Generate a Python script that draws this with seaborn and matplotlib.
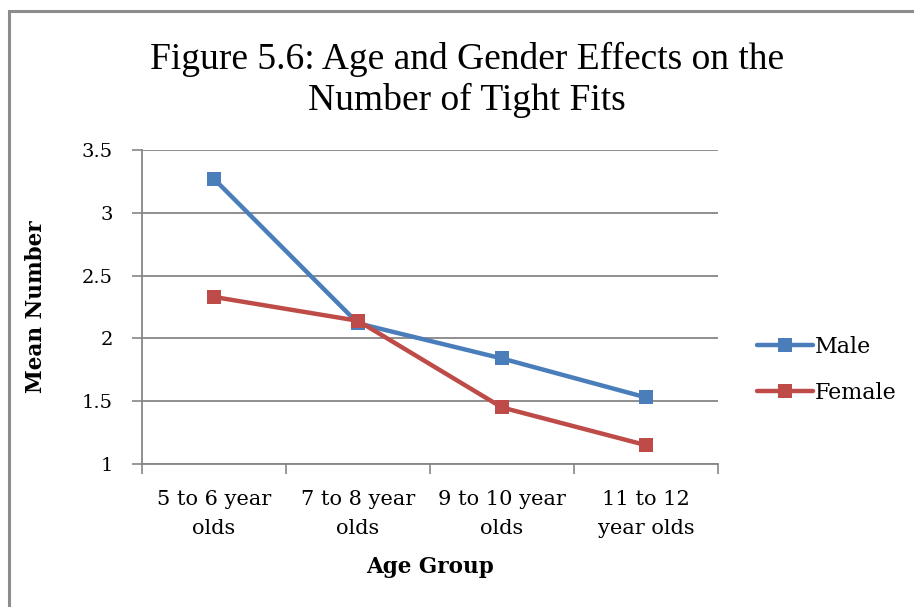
import matplotlib
matplotlib.use("Agg")
import matplotlib.pyplot as plt
import seaborn as sns
import pandas as pd
from matplotlib.patches import Rectangle

age_groups = ["5 to 6 year\nolds", "7 to 8 year\nolds", "9 to 10 year\nolds", "11 to 12\nyear olds"]
male = [3.27, 2.12, 1.84, 1.53]
female = [2.33, 2.14, 1.45, 1.15]
y_ticks = [1, 1.5, 2, 2.5, 3, 3.5]
y_tick_labels = ["1", "1.5", "2", "2.5", "3", "3.5"]

df = pd.DataFrame({
    "Age Group": age_groups * 2,
    "Mean Number": male + female,
    "Gender": ["Male"] * 4 + ["Female"] * 4,
})

sns.set_theme(style="white")
plt.rcParams["font.family"] = ["DejaVu Serif"]
plt.rcParams["text.color"] = "black"
plt.rcParams["axes.labelcolor"] = "black"
plt.rcParams["xtick.color"] = "black"
plt.rcParams["ytick.color"] = "black"

fig = plt.figure(figsize=(9.14, 6.07), dpi=100)
ax = fig.add_axes([142 / 914, 1 - 464 / 607, (718 - 142) / 914, (464 - 150) / 607])

palette = {"Male": "#4A7EBB", "Female": "#BE4B48"}
sns.lineplot(data=df, x="Age Group", y="Mean Number", hue="Gender", palette=palette,
             marker="s", markersize=10, markeredgewidth=0, linewidth=3.2, ax=ax,
             sort=False)

ax.set_xlim(-0.5, 3.5)
ax.set_ylim(1, 3.5)
ax.set_yticks(y_ticks)
ax.set_yticklabels(y_tick_labels, fontsize=14)
ax.set_xticks(range(len(age_groups)))
ax.set_xticklabels(age_groups, fontsize=15, linespacing=1.65)
ax.set_xticks([-0.5, 0.5, 1.5, 2.5, 3.5], minor=True)
ax.tick_params(axis="x", which="major", length=0, pad=19, colors="black")
ax.tick_params(axis="x", which="minor", length=7, width=1.2, color="#868686", direction="out", bottom=True)
ax.tick_params(axis="y", which="major", length=7, width=1.2, color="#868686", labelcolor="black",
               direction="out", left=True, pad=14)

ax.grid(axis="y", color="#868686", linewidth=1.3)
ax.grid(axis="x", visible=False)
ax.set_axisbelow(True)
for side in ["top", "right"]:
    ax.spines[side].set_visible(False)
for side in ["left", "bottom"]:
    ax.spines[side].set_color("#868686")
    ax.spines[side].set_linewidth(1.3)

ax.set_xlabel("Age Group", fontsize=15.5, fontweight="bold", labelpad=13)
ax.set_ylabel("Mean Number", fontsize=15.5, fontweight="bold", labelpad=25)

handles, labels = ax.get_legend_handles_labels()
ax.legend(handles, labels, loc="center left", bbox_to_anchor=(1.068, 0.300), frameon=False,
          fontsize=16, handlelength=2.5, handletextpad=0.1, labelspacing=1.08, borderpad=0,
          borderaxespad=0)

fig.text(467 / 914, 1 - 80 / 607, "Figure 5.6: Age and Gender Effects on the\nNumber of Tight Fits",
         ha="center", va="center", fontsize=27, linespacing=1.2, family="Liberation Serif")

fig.patches.append(Rectangle((9 / 914, -0.1), 1.2, 1 - 11 / 607 + 0.1, transform=fig.transFigure,
                             fill=False, edgecolor="#8c8c8c", linewidth=2.2))

fig.savefig("out.png", dpi=100)
